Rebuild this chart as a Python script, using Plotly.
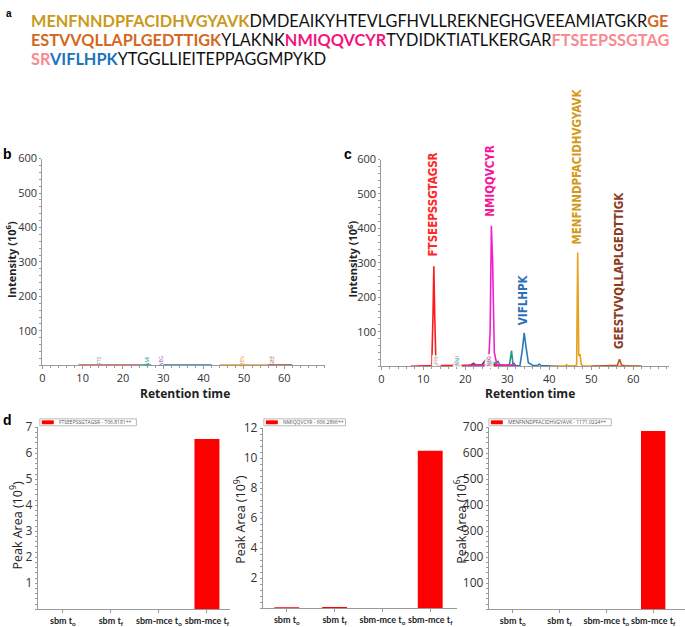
import plotly.graph_objects as go

W, H = 685, 627

# ---------------- data ----------------
# panel a : protein sequence, segments (text, colour key)
seq_line1 = [("MENFNNDPFACIDHVGYAVK", "gold"), ("DMDEAIKYHTEVLGFHVLLREKNEGHGVEEAMIATGKR", None), ("GE", "orange")]
seq_line2 = [("ESTVVQLLAPLGEDTTIGK", "orange"), ("YLAKNK", None), ("NMIQQVCYR", "pink"),
             ("TYDIDKTIATLKERGAR", None), ("FTSEEPSSGTAG", "salmon")]
seq_line3 = [("SR", "salmon"), ("VIFLHPK", "blue"), ("YTGGLLIEITEPPAGGMPYKD", None)]

# panel b : control chromatogram (flat near zero)
b_red_rt = [9, 12, 16, 20, 24]
b_red_int = [0.8, 0.9, 0.8, 1.0, 0.8]
b_green_rt = [24, 25, 26, 27]
b_green_int = [0.8, 1.0, 0.9, 0.8]
b_blue_rt = [30, 33, 36, 39, 42]
b_blue_int = [0.8, 0.9, 0.8, 0.9, 0.8]
b_orange_rt = [44, 47, 50, 53, 56]
b_orange_int = [0.8, 0.9, 0.8, 0.9, 0.8]
b_brown_rt = [56, 58, 60, 62]
b_brown_int = [0.8, 1.0, 0.9, 0.8]
b_label_rt = [14, 26, 29.5, 49.5, 57]
b_label_text = ["FTS", "NMI", "NEG", "MEN", "GEE"]

# panel c : chromatogram after treatment
c_fts_rt = [7, 10, 12.0, 12.3, 12.5, 12.7, 13.0, 13.5, 17.0, 17.5, 18.0, 18.5, 22, 25, 28, 31.0, 31.5, 32.0, 33]
c_fts_int = [0, 1, 2, 150, 290, 150, 8, 2, 3, 10, 6, 2, 3, 2, 2, 3, 8, 2, 0]
c_nmi_rt = [20, 25.5, 25.9, 26.2, 26.5, 26.9, 27.5, 30, 31.2, 31.6, 32]
c_nmi_int = [1, 3, 100, 408, 300, 40, 5, 2, 3, 8, 1]
c_vif_rt = [31, 33, 33.6, 34.0, 34.4, 35, 36, 37.2, 37.6, 38, 40, 42]
c_vif_int = [0, 2, 50, 97, 60, 10, 3, 2, 6, 2, 1, 0]
c_men_rt = [40, 43.8, 44.1, 44.4, 46, 46.5, 46.75, 47.0, 47.3, 47.6, 48, 50, 55, 58, 62]
c_men_int = [0, 1, 4, 1, 1, 3, 330, 30, 35, 5, 1, 1, 1, 1, 0]
c_gee_rt = [50, 55, 56.2, 56.7, 57.2, 58, 62]
c_gee_int = [0, 1, 3, 20, 3, 1, 0]
c_teal_rt = [17, 17.5, 18, 19, 20, 21, 22, 23, 24, 25, 26, 27, 27.8, 28.2, 29, 30.5, 31.0, 31.3, 31.6, 32]
c_teal_int = [0, 8, 3, 2, 3, 2, 5, 3, 4, 6, 15, 8, 14, 4, 3, 4, 45, 10, 2, 0]
c_dark_rt = [19, 21, 22, 22.5, 23, 24, 25, 25.5, 26, 27, 28]
c_dark_int = [0, 2, 8, 4, 3, 5, 20, 26, 8, 3, 0]
c_small_rt = [13, 18, 25.6]
c_small_text = ["FTS", "NMI", "NEG"]
c_peptides = ["FTSEEPSSGTAGSR", "NMIQQVCYR", "VIFLHPK", "MENFNNDPFACIDHVGYAVK", "GEESTVVQLLAPLGEDTTIGK"]
c_pep_rt = [12.4, 25.8, 33.9, 46.7, 56.6]
c_pep_label_base = [314, 429, 114, 349, 43]

# panel d : peak areas
d_categories = ["sbm t<sub>o</sub>", "sbm t<sub>f</sub>", "sbm-mce t<sub>o</sub>", "sbm-mce t<sub>f</sub>"]
d1_values = [0, 0, 0, 6.55]
d2_values = [0.05, 0.08, 0, 10.5]
d3_values = [0, 0, 0, 685]
d1_legend = "FTSEEPSSGTAGSR - 706.8181++"
d2_legend = "NMIQQVCYR - 606.2866++"
d3_legend = "MENFNNDPFACIDHVGYAVK - 1171.0224++"

# ---------------- styling ----------------
COL = {"gold": "#c99a1a", "orange": "#d2691e", "pink": "#f0167e", "salmon": "#f98b8f", "blue": "#1b75bc"}
PEP_COL = ["#ff2626", "#f5169a", "#2e6fb8", "#d29a1c", "#8b3b1e"]
FONT = "Open Sans, Arial, sans-serif"
LATO = "Lato, Open Sans, sans-serif"
NARROW = "DejaVu Sans Condensed, Arial Narrow, sans-serif"
AXC = "#9a9a9a"


def X(px):
    return px / W


def Y(py):
    return 1 - py / H


fig = go.Figure()

# panel b traces
for xs, ys, c in [(b_red_rt, b_red_int, "#e0404a"), (b_green_rt, b_green_int, "#1a9a8a"),
                  (b_blue_rt, b_blue_int, "#2a7ab8"), (b_orange_rt, b_orange_int, "#e8a020"),
                  (b_brown_rt, b_brown_int, "#a0402a")]:
    fig.add_trace(go.Scatter(x=xs, y=ys, mode="lines", line=dict(color=c, width=1.2),
                             xaxis="x", yaxis="y", hoverinfo="skip"))

# panel c traces
for xs, ys, c in [(c_dark_rt, c_dark_int, "#6b2a10"), (c_teal_rt, c_teal_int, "#1a9a8a"),
                  (c_fts_rt, c_fts_int, "#ff1a1a"), (c_nmi_rt, c_nmi_int, "#f020d0"),
                  (c_vif_rt, c_vif_int, "#2a7ab8"), (c_men_rt, c_men_int, "#e8a020"),
                  (c_gee_rt, c_gee_int, "#c0502a")]:
    fig.add_trace(go.Scatter(x=xs, y=ys, mode="lines", line=dict(color=c, width=1.6),
                             xaxis="x2", yaxis="y2", hoverinfo="skip"))

# panel d bars
for i, vals in enumerate([d1_values, d2_values, d3_values]):
    n = i + 3
    fig.add_trace(go.Bar(x=d_categories, y=vals, marker=dict(color="#ff0000", line=dict(width=0)),
                         xaxis=f"x{n}", yaxis=f"y{n}", hoverinfo="skip"))

tickfont = dict(family=FONT, size=11, color="#333")


def xax(domain, anchor, **kw):
    d = dict(domain=[X(domain[0]), X(domain[1])], anchor=anchor, showline=True, linecolor=AXC,
             linewidth=1, ticks="outside", ticklen=3, tickcolor=AXC, showgrid=False, zeroline=False,
             tickfont=tickfont, fixedrange=True)
    d.update(kw)
    return d


def yax(domain, anchor, **kw):
    d = dict(domain=[Y(domain[1]), Y(domain[0])], anchor=anchor, showline=True, linecolor=AXC,
             linewidth=1, ticks="outside", ticklen=2, tickcolor=AXC, showgrid=False, zeroline=False,
             tickfont=tickfont, fixedrange=True)
    d.update(kw)
    return d


cat_font = dict(family=LATO, size=9, color="#222", weight="bold")
fig.update_layout(
    width=W, height=H, autosize=False, margin=dict(l=0, r=0, t=0, b=0),
    paper_bgcolor="white", plot_bgcolor="white", showlegend=False, bargap=0.48,
    xaxis=xax((39.5, 323), "y", range=[0, 70], tickvals=[0, 10, 20, 30, 40, 50, 60],
              minor=dict(ticks="outside", ticklen=2, dtick=2, tickcolor=AXC)),
    yaxis=yax((152, 362), "x", range=[0, 600], tickvals=[100, 200, 300, 400, 500, 600],
              minor=dict(ticks="outside", ticklen=2, dtick=20, tickcolor=AXC)),
    xaxis2=xax((380, 669), "y2", range=[0, 68.5], tickvals=[0, 10, 20, 30, 40, 50, 60],
               minor=dict(ticks="outside", ticklen=2, dtick=2, tickcolor=AXC)),
    yaxis2=yax((153, 363), "x2", range=[0, 600], tickvals=[100, 200, 300, 400, 500, 600],
               minor=dict(ticks="outside", ticklen=2, dtick=20, tickcolor=AXC)),
    xaxis3=xax((35, 228), "y3", type="category", range=[-0.52, 3.48], tickfont=cat_font, tickangle=0),
    yaxis3=yax((425, 610), "x3", range=[0, 7], tickvals=[1, 2, 3, 4, 5, 6, 7],
               tickfont=dict(family=FONT, size=12, color="#333"),
               minor=dict(ticks="outside", ticklen=2, dtick=0.2, tickcolor=AXC)),
    xaxis4=xax((261, 456), "y4", type="category", range=[-0.5, 3.56], tickfont=cat_font, tickangle=0),
    yaxis4=yax((426, 609), "x4", range=[0, 12], tickvals=[2, 4, 6, 8, 10, 12],
               tickfont=dict(family=FONT, size=12, color="#333"),
               minor=dict(ticks="outside", ticklen=2, dtick=0.4, tickcolor=AXC)),
    xaxis5=xax((488, 685), "y5", type="category", range=[-0.51, 3.68], tickfont=cat_font, tickangle=0),
    yaxis5=yax((425, 610), "x5", range=[0, 700], tickvals=[100, 200, 300, 400, 500, 600, 700],
               tickfont=dict(family=FONT, size=12, color="#333"),
               minor=dict(ticks="outside", ticklen=2, dtick=20, tickcolor=AXC)),
)

ann = []


def seg_html(segs):
    out = ""
    for txt, key in segs:
        if key is None:
            out += txt
        else:
            out += f"<b><span style='color:{COL[key]}'>{txt}</span></b>"
    return out


for segs, py in [(seq_line1, 12), (seq_line2, 31), (seq_line3, 50)]:
    ann.append(dict(text=seg_html(segs), x=X(26), y=Y(py), xref="paper", yref="paper",
                    xanchor="left", yanchor="middle", showarrow=False,
                    font=dict(family=LATO, size=16.3, color="#111")))

# panel letters
for t, px, py, s in [("a", 6, 5, 10), ("b", 5, 147, 14), ("c", 347, 147, 14), ("d", 5, 418, 14)]:
    ann.append(dict(text=f"<b>{t}</b>", x=X(px), y=Y(py), xref="paper", yref="paper",
                    xanchor="center", yanchor="middle", showarrow=False,
                    font=dict(family="Arial", size=s, color="#000")))

# axis titles
title_font = dict(family=FONT, size=11, color="#222")
for px, py in [(8, 254), (351, 254)]:
    ann.append(dict(text="<b>Intensity (10<sup>6</sup>)</b>", x=X(px), y=Y(py), xref="paper", yref="paper",
                    textangle=-90, xanchor="center", yanchor="middle", showarrow=False, font=title_font))
for px, py in [(183, 391), (529, 391)]:
    ann.append(dict(text="<b>Retention time</b>", x=X(px), y=Y(py), xref="paper", yref="paper",
                    xanchor="center", yanchor="middle", showarrow=False,
                    font=dict(family=FONT, size=12, color="#222")))
for px, py, e in [(13, 524, "9"), (238, 518, "9"), (459, 518, "6")]:
    ann.append(dict(text=f"Peak Area (10<sup>{e}</sup>)", x=X(px), y=Y(py), xref="paper", yref="paper",
                    textangle=-90, xanchor="center", yanchor="middle", showarrow=False,
                    font=dict(family=FONT, size=12.5, color="#222")))

# tiny labels in b
b_lab_col = ["#8a7aa0", "#1a9a8a", "#8a5a9a", "#e0a040", "#b06a50"]
for rt, t, c in zip(b_label_rt, b_label_text, b_lab_col):
    ann.append(dict(text=t, x=rt, y=12, xref="x", yref="y", textangle=-90, showarrow=False,
                    font=dict(family=FONT, size=5, color=c), xanchor="center", yanchor="middle"))
for rt, t, c in zip(c_small_rt, c_small_text, ["#aaaaaa", "#1a9a8a", "#8a5a9a"]):
    ann.append(dict(text=t, x=rt, y=16, xref="x2", yref="y2", textangle=-90, showarrow=False,
                    font=dict(family=FONT, size=5, color=c), xanchor="center", yanchor="middle",
                    bgcolor="rgba(255,255,255,0.8)"))
# peptide labels in c
for t, rt, yv, c in zip(c_peptides, c_pep_rt, c_pep_label_base, PEP_COL):
    ann.append(dict(text=f"<b>{t}</b>", x=rt, y=yv, xref="x2", yref="y2", textangle=-90,
                    showarrow=False, xanchor="center", yanchor="bottom",
                    font=dict(family=NARROW, size=11.5, color=c)))

# legends of panel d
shapes = []
for (x0, x1), txt in [((37, 134), d1_legend), ((262, 344), d2_legend), ((488, 611), d3_legend)]:
    shapes.append(dict(type="rect", xref="paper", yref="paper", x0=X(x0), x1=X(x1), y0=Y(423.5), y1=Y(416.5),
                       line=dict(color="#aaaaaa", width=0.8), fillcolor="white"))
    shapes.append(dict(type="rect", xref="paper", yref="paper", x0=X(x0 + 2), x1=X(x0 + 14), y0=Y(422), y1=Y(418),
                       line=dict(width=0), fillcolor="#ff0000"))
    ann.append(dict(text=txt, x=X(x0 + 17), y=Y(420), xref="paper", yref="paper", xanchor="left",
                    yanchor="middle", showarrow=False, font=dict(family=FONT, size=5, color="#555")))

fig.update_layout(annotations=ann, shapes=shapes)
fig.write_html("out.html", config={"displayModeBar": False},
               post_script="document.body.style.margin='0';document.body.style.overflow='hidden';")
